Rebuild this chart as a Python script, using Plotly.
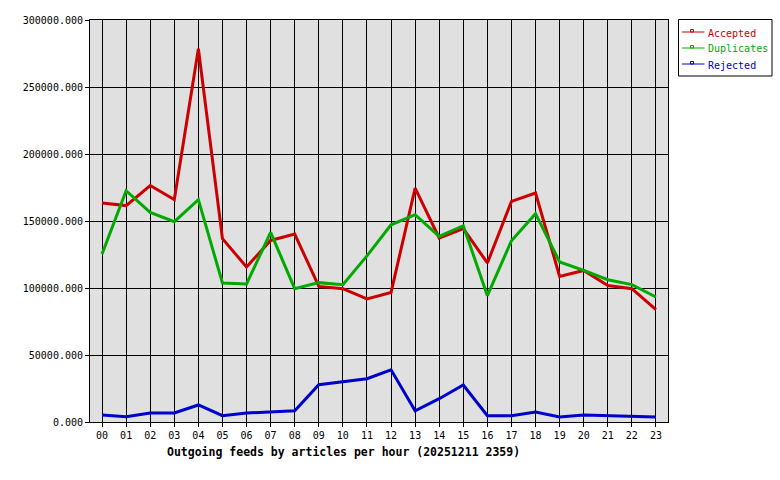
import plotly.graph_objects as go

hours = ["00", "01", "02", "03", "04", "05", "06", "07", "08", "09", "10", "11",
         "12", "13", "14", "15", "16", "17", "18", "19", "20", "21", "22", "23"]

accepted = [163500, 161500, 176500, 166000, 278500, 136800, 115700, 135500, 140300, 101200,
            99500, 91800, 96700, 174600, 137300, 144300, 118700, 164600, 170900, 108700,
            113100, 101900, 99500, 83800]
duplicates = [125400, 172600, 156400, 149500, 165900, 103700, 103000, 141500, 99500, 104000,
              102500, 124000, 147200, 154700, 138500, 146500, 94300, 135300, 155500, 119400,
              113100, 106200, 102500, 93300]
rejected = [5200, 4000, 6700, 6700, 12700, 4700, 6700, 7500, 8400, 27800,
            30300, 32300, 39000, 8400, 17400, 27600, 4700, 4700, 7500, 3700,
            5200, 4700, 4700, 3700]

series_names = ["Accepted", "Duplicates", "Rejected"]
series_colors = ["#cc0000", "#00aa00", "#0000cc"]
series_values = [accepted, duplicates, rejected]

title_text = "Outgoing feeds by articles per hour (20251211 2359)"
mono = "DejaVu Sans Mono"

W, H = 780, 480
ML, MR, MT, MB = 90, 112, 20, 58
PW, PH = W - ML - MR, H - MT - MB


def px(xp):
    return (xp - ML) / PW


def py(yp):
    return (H - MB - yp) / PH


x_idx = list(range(len(hours)))

fig = go.Figure()
for name, color, vals in zip(series_names, series_colors, series_values):
    fig.add_trace(go.Scatter(
        x=x_idx, y=vals, mode="lines", name=name,
        line=dict(color=color, width=3), showlegend=False,
        hoverinfo="skip"))

# Manual legend box (style of the original chart)
shapes = [dict(type="rect", xref="paper", yref="paper",
               x0=px(678.5), x1=px(772), y0=py(19.5), y1=py(76),
               line=dict(color="black", width=1), fillcolor="white", layer="above")]
annotations = []
for i, (name, color) in enumerate(zip(series_names, series_colors)):
    ly = 32 + 16 * i
    shapes.append(dict(type="line", xref="paper", yref="paper",
                       x0=px(682), x1=px(704.5), y0=py(ly), y1=py(ly),
                       line=dict(color=color, width=1)))
    shapes.append(dict(type="rect", xref="paper", yref="paper",
                       x0=px(690.5), x1=px(693.5), y0=py(ly), y1=py(ly - 2.5),
                       line=dict(color=color, width=1), fillcolor="rgba(0,0,0,0)"))
    annotations.append(dict(text=name, xref="paper", yref="paper",
                            x=px(706), y=py(ly + 1), xanchor="left", yanchor="middle",
                            showarrow=False, font=dict(family=mono, size=10, color=color)))

annotations.append(dict(
    text=f"<b>{title_text}</b>", xref="paper", yref="paper",
    x=px(165), y=py(452), xanchor="left", yanchor="middle",
    showarrow=False, font=dict(family=mono, size=11.5, color="black"),
))

fig.update_layout(
    width=W, height=H,
    margin=dict(l=ML, r=MR, t=MT, b=MB, pad=0),
    paper_bgcolor="white",
    plot_bgcolor="#e0e0e0",
    font=dict(family=mono, size=10, color="black"),
    showlegend=False,
    xaxis=dict(
        range=[-0.5, 23.5],
        tickmode="array", tickvals=x_idx, ticktext=hours,
        showgrid=True, gridcolor="black", gridwidth=1,
        ticks="outside", ticklen=4, tickcolor="black", tickwidth=1,
        showline=True, linecolor="black", linewidth=1, mirror=True,
        zeroline=False, tickfont=dict(family=mono, size=10, color="black"),
        fixedrange=True,
    ),
    yaxis=dict(
        range=[0, 300000], dtick=50000, tickformat=".3f",
        showgrid=True, gridcolor="black", gridwidth=1,
        ticks="outside", ticklen=4, tickcolor="black", tickwidth=1,
        showline=True, linecolor="black", linewidth=1, mirror=True,
        zeroline=False, tickfont=dict(family=mono, size=10, color="black"),
        fixedrange=True,
    ),
    shapes=shapes,
    annotations=annotations,
)

fig.write_html("out.html")
